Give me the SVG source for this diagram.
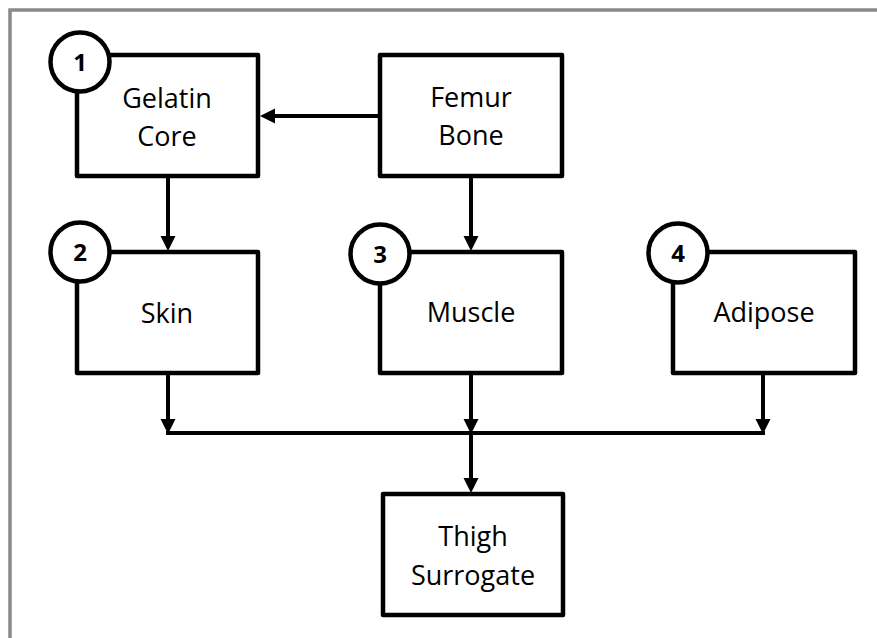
<svg xmlns="http://www.w3.org/2000/svg" width="877" height="638" viewBox="0 0 877 638">
<style>
.box{fill:#fff;stroke:#000;stroke-width:4.5;stroke-linejoin:round}
.num{fill:#fff;stroke:#000;stroke-width:4.5}
.lbl{font-family:"Open Sans","Noto Sans",sans-serif;font-size:27px;fill:#000;text-anchor:middle}
.n{font-family:"Open Sans","Noto Sans",sans-serif;font-size:24px;font-weight:bold;fill:#000;text-anchor:middle}
.ln{fill:none;stroke:#000;stroke-width:4}
</style>
<defs>
<marker id="ah" markerUnits="userSpaceOnUse" markerWidth="16" markerHeight="16" viewBox="0 0 16 16" refX="0" refY="8" orient="auto">
<path d="M0,0.5 L15,8 L0,15.5 z" fill="#000"/>
</marker>
</defs>
<rect width="877" height="638" fill="#fff"/>
<rect x="10" y="10" width="900" height="700" fill="none" stroke="#898989" stroke-width="3.5"/>
<g id="connectors">
<path class="ln" d="M379,116 L275,116" marker-end="url(#ah)"/>
<path class="ln" d="M168,177 L168,236" marker-end="url(#ah)"/>
<path class="ln" d="M471,177 L471,236" marker-end="url(#ah)"/>
<path class="ln" d="M168,373 L168,419" marker-end="url(#ah)"/>
<path class="ln" d="M471,373 L471,419" marker-end="url(#ah)"/>
<path class="ln" d="M763,373 L763,419" marker-end="url(#ah)"/>
<path class="ln" d="M166,433 L765,433"/>
<path class="ln" d="M471,433 L471,478" marker-end="url(#ah)"/>
</g>
<g id="gelatin">
<rect class="box" x="77" y="55" width="181" height="121"/>
<text class="lbl" x="167" y="108">Gelatin</text>
<text class="lbl" x="167" y="146">Core</text>
<circle class="num" cx="80" cy="62" r="29.5"/>
<text class="n" x="80" y="70.5">1</text>
</g>
<g id="femur">
<rect class="box" x="380" y="55" width="182" height="121"/>
<text class="lbl" x="471" y="107">Femur</text>
<text class="lbl" x="471" y="145">Bone</text>
</g>
<g id="skin">
<rect class="box" x="77" y="252" width="181" height="121"/>
<text class="lbl" x="167" y="323">Skin</text>
<circle class="num" cx="80" cy="252" r="29.5"/>
<text class="n" x="80" y="260.5">2</text>
</g>
<g id="muscle">
<rect class="box" x="380" y="252" width="182" height="121"/>
<text class="lbl" x="471" y="322">Muscle</text>
<circle class="num" cx="380" cy="254" r="29.5"/>
<text class="n" x="380" y="262.5">3</text>
</g>
<g id="adipose">
<rect class="box" x="673" y="252" width="182" height="121"/>
<text class="lbl" x="764" y="322">Adipose</text>
<circle class="num" cx="678" cy="253" r="29.5"/>
<text class="n" x="678" y="261.5">4</text>
</g>
<g id="thigh">
<rect class="box" x="383" y="494" width="180" height="121"/>
<text class="lbl" x="473" y="546">Thigh</text>
<text class="lbl" x="473" y="585">Surrogate</text>
</g>
</svg>
